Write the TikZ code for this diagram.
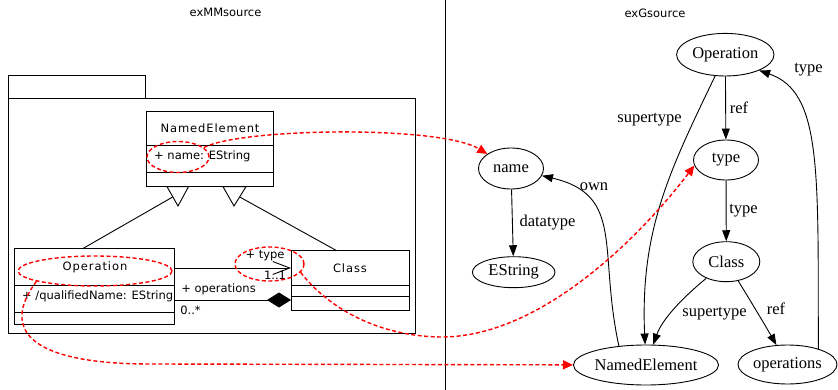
\documentclass[tikz,border=0pt]{standalone}
\usepackage{fontspec}
\setmainfont{Liberation Serif}
\newfontfamily\umlfont{DejaVu Sans}
\newfontfamily\umlnamefont[LetterSpace=8]{DejaVu Sans}
\usetikzlibrary{arrows.meta,shapes.geometric}

\tikzset{
  umlline/.style={line width=0.9pt},
  umlbox/.style={draw, rectangle, line width=0.9pt, inner sep=0pt},
  umltext/.style={font=\umlfont\fontsize{11.5}{13}\selectfont, inner sep=0pt},
  umlname/.style={font=\umlnamefont\fontsize{11.5}{13}\selectfont, inner sep=0pt},
  gnode/.style={draw, ellipse, line width=0.9pt, inner sep=0pt,
    font=\fontsize{16.5}{19}\selectfont},
  gedge/.style={line width=0.9pt, -{Triangle[length=11pt,width=8pt]}},
  glabel/.style={font=\fontsize{16.5}{19}\selectfont, inner sep=0pt},
  hl/.style={draw=red, ellipse, line width=1.4pt, dash pattern=on 4pt off 2.5pt, inner sep=0pt},
  hlarrow/.style={draw=red, line width=1.4pt, dash pattern=on 4pt off 2.5pt,
    -{Triangle[length=10pt,width=9pt,fill=red]}},
}

\begin{document}
\begin{tikzpicture}[x=1pt,y=-1pt]
\useasboundingbox (0,0) rectangle (838,390);

% titles and separator
\node[umltext] (tMM) at (225.5,12) {exMMsource};
\node[umltext] (tG) at (655,13) {exGsource};
\draw[line width=0.9pt] (445,0) -- (445,390);

% package frame
\draw[umlline] (8,75) rectangle (145.5,98.3);
\draw[umlline] (8,98.3) rectangle (415,333);

% class NamedElement
\node[umlbox, minimum width=126.6pt, minimum height=75pt] (cNE) at (210,149.2) {};
\draw[umlline] (146.7,145.7) -- (273.3,145.7);
\draw[umlline] (146.7,172.7) -- (273.3,172.7);
\node[umlname] (nNE) at (210,128.3) {NamedElement};
\node[umltext, anchor=west] (aNE) at (154,156.7) {+ name: EString};

% class Operation
\node[umlbox, minimum width=160pt, minimum height=75.7pt] (cOp) at (94,286.2) {};
\draw[umlline] (14,285) -- (174,285);
\draw[umlline] (14,312.3) -- (174,312.3);
\node[umlname] (nOp) at (95,267.7) {Operation};
\node[umltext, anchor=west] (aOp) at (22,296.5) {+ /qualifiedName: EString};

% class Class
\node[umlbox, minimum width=118pt, minimum height=59.3pt] (cCls) at (350,280.4) {};
\draw[umlline] (291,285.3) -- (409,285.3);
\draw[umlline] (291,296.7) -- (409,296.7);
\node[umlname] (nCls) at (350,268) {Class};

% generalizations
\coordinate (opTop) at (83.3,248.3);
\coordinate (clsTop) at (336.7,250.7);
\coordinate (gen1) at (172.7,197);
\coordinate (gen2) at (239.7,197);
\draw[umlline] (opTop) -- (gen1);
\draw[umlline] (clsTop) -- (gen2);
\draw[umlline, fill=white] (167,186.7) -- (188.5,186.7) -- (178,206) -- cycle;
\draw[umlline, fill=white] (223,186.7) -- (246,186.7) -- (234,206) -- cycle;

% associations
\coordinate (tyS) at (174,268);
\coordinate (tyE) at (291,268);
\coordinate (opS) at (174,300);
\coordinate (opE) at (291,300);
\draw[umlline, -{Straight Barb[length=17pt,width=13pt]}] (tyS) -- (tyE);
\draw[umlline, -{Diamond[length=24pt,width=15pt]}] (opS) -- (opE);
\node[umltext] (lType) at (265,255.5) {+ type};
\node[umltext] (lMul1) at (275,275) {1..1};
\node[umltext] (lOps) at (218.5,289) {+ operations};
\node[umltext] (lMul2) at (190.5,310) {0..*};

% graph nodes
\node[gnode, minimum width=97.4pt, minimum height=42.6pt] (gOp) at (725.3,54.7) {Operation};
\node[gnode, minimum width=65pt, minimum height=40pt] (gType) at (726,160) {type};
\node[gnode, minimum width=67pt, minimum height=40pt] (gCls) at (726.3,261.7) {Class};
\node[gnode, minimum width=65pt, minimum height=41pt] (gName) at (511,168.5) {name};
\node[gnode, minimum width=82.6pt, minimum height=31pt] (gES) at (513.7,272.2) {EString};
\node[gnode, minimum width=130pt, minimum height=40pt] (gNE) at (646,365) {NamedElement};
\node[gnode, minimum width=99pt, minimum height=39pt] (gOps) at (787.5,364.5) {operations};

% graph edges
\draw[gedge] (gOp) -- (gType);
\draw[gedge] (gType) -- (gCls);
\draw[gedge] (gName) -- (gES);
\draw[gedge] (gOp) .. controls (670,170) and (640,230) .. (gNE);
\draw[gedge] (gNE.145) .. controls (598,250) and (625,195) .. (gName);
\draw[gedge] (gCls) .. controls (680,300) and (662,320) .. (gNE);
\draw[gedge] (gCls) .. controls (750,300) and (765,325) .. (gOps);
\draw[gedge] (gOps.27) .. controls (818,170) and (822,92) .. (gOp.-25);

% edge labels
\node[glabel] (eRef1) at (739,108) {ref};
\node[glabel] (eType1) at (743.5,211) {type};
\node[glabel] (eSup1) at (649.5,120) {supertype};
\node[glabel] (eOwn) at (594,187) {own};
\node[glabel] (eData) at (547.5,223) {datatype};
\node[glabel] (eSup2) at (714.5,314) {supertype};
\node[glabel] (eRef2) at (776,309) {ref};
\node[glabel] (eType2) at (808.5,70) {type};

% highlighted elements and their counterparts
\node[hl, minimum width=62pt, minimum height=31pt] (hlName) at (178,157) {};
\node[hl, minimum width=154pt, minimum height=30pt] (hlOp) at (95,271) {};
\node[hl, minimum width=69pt, minimum height=34pt] (hlType) at (269.5,264) {};

\draw[hlarrow] (hlName.20) .. controls (240,128) and (440,125) .. (gName);
\draw[hlarrow] (hlType.-15) .. controls (330,310) and (380,336) .. (440,337)
  .. controls (540,338) and (640,237) .. (gType.190);
\draw[hlarrow] (hlOp.190) .. controls (0,330) and (30,364) .. (150,364) -- (gNE);
\end{tikzpicture}
\end{document}
